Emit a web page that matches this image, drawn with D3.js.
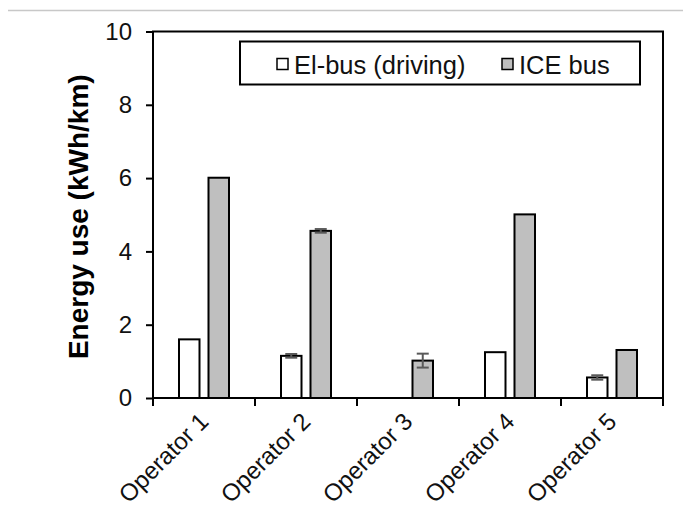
<!DOCTYPE html>
<html><head><meta charset="utf-8">
<script src="https://cdn.jsdelivr.net/npm/d3@7"></script>
<style>body{margin:0;background:#fff}svg{display:block}</style></head>
<body><svg id="chart" width="683" height="515"></svg>
<script>
const categories = ["Operator 1","Operator 2","Operator 3","Operator 4","Operator 5"];
const seriesNames = ["El-bus (driving)","ICE bus"];
const elBus = [1.60, 1.15, 0, 1.25, 0.56];
const iceBus = [6.01, 4.56, 1.02, 5.01, 1.31];
const elBusErr = [0, 0.05, 0, 0, 0.06];
const iceBusErr = [0, 0.05, 0.19, 0, 0];
const yTicks = [0, 2, 4, 6, 8, 10];
const yLabel = "Energy use (kWh/km)";

const seriesColors = ["#ffffff", "#bfbfbf"];
const font = "'Liberation Sans', Arial, sans-serif";

const svg = d3.select("#chart");
const plotLeft = 153, plotRight = 663, plotBottom = 398, plotTop = 31.5;

// top gray separator line
svg.append("line").attr("x1", 8).attr("x2", 683).attr("y1", 10.5).attr("y2", 10.5)
  .attr("stroke", "#c8c8c8").attr("stroke-width", 1.5);

const x0 = d3.scaleBand().domain(categories).range([plotLeft, plotRight]).paddingInner(0).paddingOuter(0);
const x1 = d3.scaleBand().domain(seriesNames).range([-25, 25]).paddingInner(0.305).paddingOuter(0);
const y = d3.scaleLinear().domain([0, 10]).range([plotBottom, plotTop]);

const rows = categories.map((c, i) => ({
  cat: c,
  vals: [
    {s: seriesNames[0], v: elBus[i], e: elBusErr[i], fill: seriesColors[0]},
    {s: seriesNames[1], v: iceBus[i], e: iceBusErr[i], fill: seriesColors[1]}
  ]
}));

// bars
const g = svg.append("g");
rows.forEach(r => {
  const cx = x0(r.cat) + x0.bandwidth() / 2;
  r.vals.forEach(d => {
    if (d.v <= 0) return;
    g.append("rect")
      .attr("x", cx + x1(d.s)).attr("width", x1.bandwidth())
      .attr("y", y(d.v)).attr("height", y(0) - y(d.v))
      .attr("fill", d.fill).attr("stroke", "#000").attr("stroke-width", 2);
  });
});

// error bars
rows.forEach(r => {
  const cx = x0(r.cat) + x0.bandwidth() / 2;
  r.vals.forEach(d => {
    if (!d.e) return;
    const bx = cx + x1(d.s) + x1.bandwidth() / 2;
    const capW = 6;
    const eg = g.append("g").attr("stroke", "#595959").attr("stroke-width", 2);
    eg.append("line").attr("x1", bx).attr("x2", bx).attr("y1", y(d.v + d.e)).attr("y2", y(d.v - d.e));
    eg.append("line").attr("x1", bx - capW).attr("x2", bx + capW).attr("y1", y(d.v + d.e)).attr("y2", y(d.v + d.e));
    eg.append("line").attr("x1", bx - capW).attr("x2", bx + capW).attr("y1", y(d.v - d.e)).attr("y2", y(d.v - d.e));
  });
});

// plot frame
svg.append("rect").attr("x", plotLeft).attr("y", plotTop).attr("width", plotRight - plotLeft).attr("height", plotBottom - plotTop)
  .attr("fill", "none").attr("stroke", "#000").attr("stroke-width", 2);

// y axis
const yAxis = svg.append("g").attr("transform", `translate(${plotLeft},0)`)
  .call(d3.axisLeft(y).tickValues(yTicks).tickSize(7).tickPadding(14).tickFormat(d3.format("d")));
yAxis.select(".domain").remove();
yAxis.selectAll(".tick line").attr("stroke", "#000").attr("stroke-width", 2);
yAxis.selectAll(".tick text").attr("font-family", font).attr("font-size", 24).attr("fill", "#111");

// x axis ticks at category boundaries
const bounds = categories.map(c => x0(c)).concat([x0.range()[1]]);
svg.append("g").selectAll("line").data(bounds).join("line")
  .attr("x1", d => d).attr("x2", d => d).attr("y1", plotBottom).attr("y2", plotBottom + 8)
  .attr("stroke", "#000").attr("stroke-width", 2);

// x labels
svg.append("g").selectAll("text").data(categories).join("text")
  .attr("transform", d => `translate(${x0(d) + x0.bandwidth() / 2 + 6},${plotBottom + 25}) rotate(-45)`)
  .attr("text-anchor", "end")
  .attr("font-family", font).attr("font-size", 24).attr("fill", "#111")
  .text(d => d);

// y label
svg.append("text")
  .attr("transform", `translate(88,${(plotTop + plotBottom) / 2 + 2}) rotate(-90)`)
  .attr("text-anchor", "middle")
  .attr("font-family", font).attr("font-size", 28).attr("font-weight", "bold").attr("fill", "#000")
  .text(yLabel);

// legend
const lg = svg.append("g");
lg.append("rect").attr("x", 240).attr("y", 41.5).attr("width", 400).attr("height", 43)
  .attr("fill", "#fff").attr("stroke", "#000").attr("stroke-width", 2);
const legendX = [277, 502];
seriesNames.forEach((s, i) => {
  lg.append("rect").attr("x", legendX[i]).attr("y", 58.5).attr("width", 11).attr("height", 11)
    .attr("fill", seriesColors[i]).attr("stroke", "#000").attr("stroke-width", 1.5);
  lg.append("text").attr("x", legendX[i] + 17).attr("y", 74)
    .attr("font-family", font).attr("font-size", 25.5).attr("fill", "#111").text(s);
});
</script></body></html>
